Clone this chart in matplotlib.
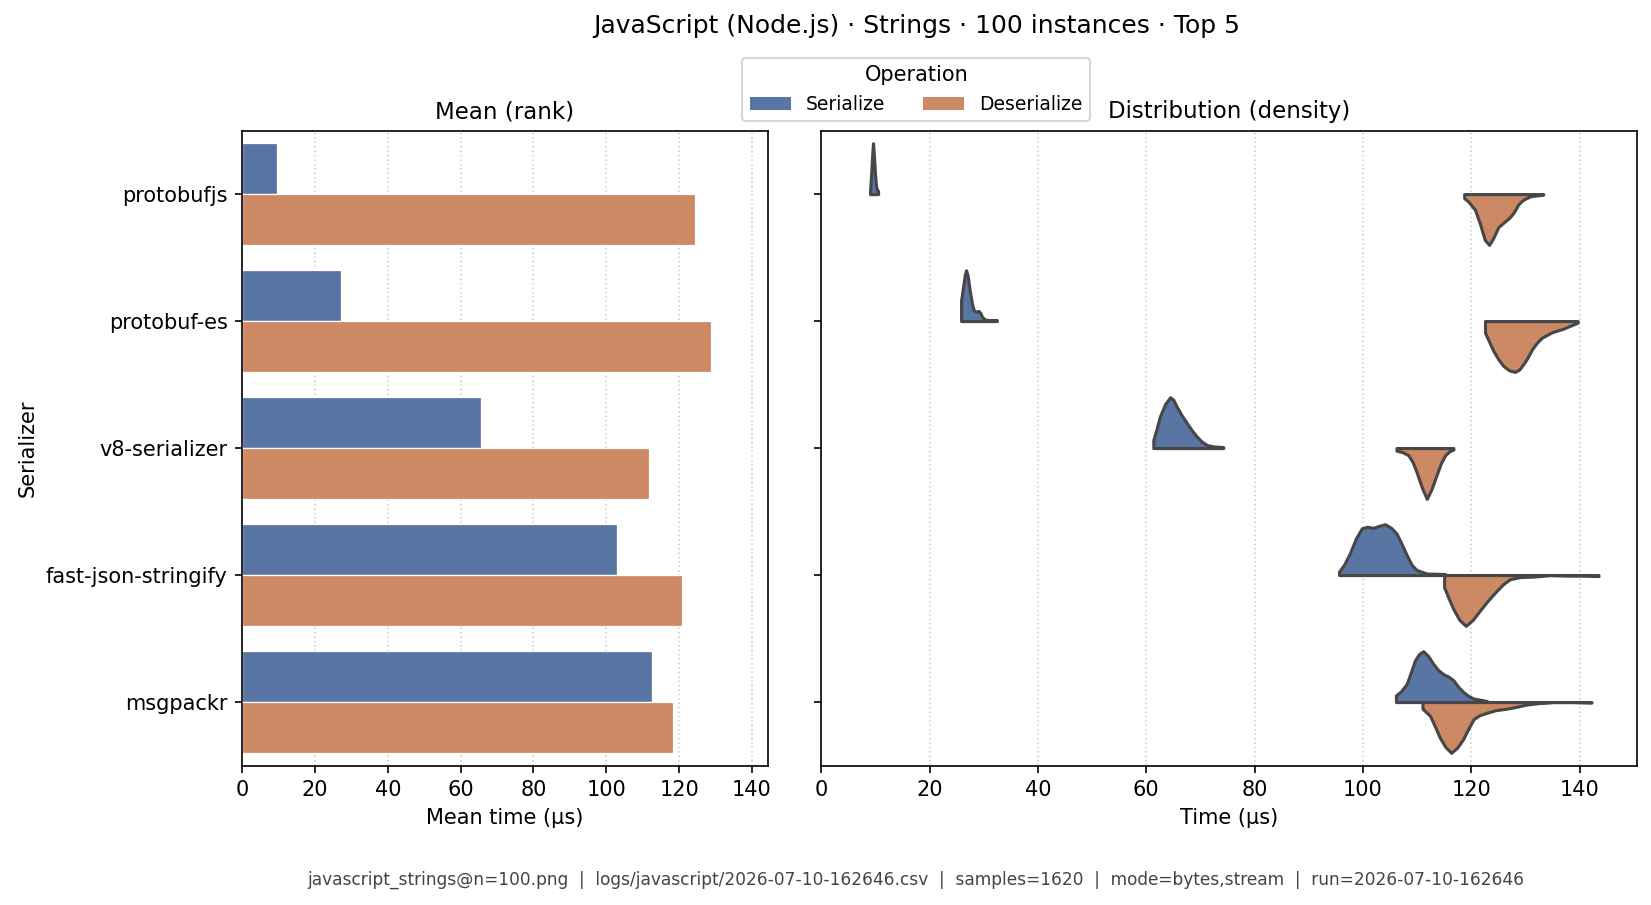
import numpy as np
import matplotlib
matplotlib.use("Agg")
import matplotlib.pyplot as plt
from matplotlib.patches import Patch

serializers = ["protobufjs", "protobuf-es", "v8-serializer", "fast-json-stringify", "msgpackr"]
operations = ["Serialize", "Deserialize"]
colors = ["#5975a4", "#cc8963"]

# mean times (µs)
mean_ser = [9.5, 27.2, 65.7, 103.0, 112.5]
mean_deser = [124.4, 128.7, 111.7, 120.9, 118.3]

# density outlines: time (µs) and density scaled to peak = 1
ser_t = [
    [8.99, 9.2, 9.4, 9.54, 9.7, 9.9, 10.1, 10.3, 10.47],
    [25.8, 26.2, 26.5, 26.72, 27.0, 27.4, 27.8, 28.1, 28.6, 29.0, 29.3, 29.7, 30.2, 31.0, 32.4],
    [61.3, 61.9, 62.5, 63.5, 64.4, 65.0, 65.6, 66.5, 67.5, 68.4, 69.3, 70.2, 71.2, 72.5, 74.2],
    [95.6, 96.5, 97.6, 98.7, 99.8, 100.8, 101.9, 103.0, 104.1, 105.2, 106.2, 107.2, 108.1,
     109.0, 109.9, 111.8, 115.2],
    [106.1, 107.1, 108.1, 108.9, 109.6, 110.4, 111.15, 112.1, 113.0, 113.9, 114.85, 115.8,
     116.7, 117.6, 118.5, 119.5, 120.4, 122.9],
]
ser_d = [
    [0.05, 0.4, 0.8, 1.0, 0.75, 0.4, 0.15, 0.08, 0.06],
    [0.4, 0.7, 0.92, 1.0, 0.9, 0.6, 0.35, 0.22, 0.18, 0.2, 0.17, 0.08, 0.03, 0.02, 0.02],
    [0.16, 0.38, 0.62, 0.87, 1.0, 0.95, 0.82, 0.65, 0.49, 0.35, 0.23, 0.13, 0.06, 0.03, 0.02],
    [0.07, 0.2, 0.43, 0.72, 0.92, 0.95, 0.93, 0.97, 1.0, 0.93, 0.82, 0.6, 0.39, 0.2, 0.1,
     0.03, 0.02],
    [0.13, 0.22, 0.36, 0.6, 0.82, 0.95, 1.0, 0.9, 0.75, 0.63, 0.55, 0.5, 0.43, 0.3, 0.2,
     0.12, 0.07, 0.02],
]
deser_t = [
    [118.7, 119.5, 120.7, 121.6, 122.5, 123.3, 124.0, 125.0, 126.2, 127.0, 127.8, 128.7,
     129.6, 131.0, 133.3],
    [122.55, 123.2, 124.1, 125.0, 125.9, 127.0, 128.1, 128.9, 129.6, 130.4, 131.2, 132.1,
     133.0, 134.9, 137.0, 139.66],
    [106.2, 107.3, 108.4, 109.2, 109.9, 110.9, 111.8, 112.7, 113.6, 114.4, 115.2, 116.0, 116.7],
    [115.0, 115.8, 116.7, 117.8, 119.0, 120.3, 121.6, 123.1, 124.7, 126.0, 127.2, 129.0,
     131.5, 134.5, 138.2, 141.0, 143.5],
    [111.0, 111.7, 112.4, 113.3, 114.2, 115.2, 116.3, 117.4, 118.5, 119.5, 120.4, 121.5,
     122.9, 124.5, 126.6, 128.5, 130.2, 132.5, 135.2, 138.5, 142.2],
]
deser_d = [
    [0.08, 0.15, 0.31, 0.58, 0.9, 1.0, 0.88, 0.65, 0.54, 0.47, 0.37, 0.2, 0.11, 0.04, 0.01],
    [0.23, 0.38, 0.59, 0.75, 0.88, 0.97, 1.0, 0.95, 0.85, 0.72, 0.56, 0.43, 0.33, 0.22,
     0.15, 0.03],
    [0.05, 0.08, 0.14, 0.28, 0.47, 0.78, 1.0, 0.8, 0.53, 0.3, 0.14, 0.06, 0.03],
    [0.24, 0.45, 0.67, 0.88, 1.0, 0.88, 0.7, 0.5, 0.31, 0.17, 0.08, 0.04, 0.03, 0.0, 0.01,
     0.01, 0.02],
    [0.13, 0.2, 0.27, 0.48, 0.7, 0.88, 1.0, 0.9, 0.73, 0.52, 0.34, 0.26, 0.21, 0.16, 0.13,
     0.09, 0.05, 0.02, 0.0, 0.0, 0.01],
]

footer = ("javascript_strings@n=100.png  |  logs/javascript/2026-07-10-162646.csv  |  "
          "samples=1620  |  mode=bytes,stream  |  run=2026-07-10-162646")

plt.rcParams["font.family"] = ["DejaVu Sans"]
plt.rcParams["font.size"] = 10

fig = plt.figure(figsize=(1651 / 150, 905 / 150), dpi=150)
ax1 = fig.add_axes([0.1467, 0.1541, 0.3182, 0.7016])
ax2 = fig.add_axes([0.4975, 0.1541, 0.4943, 0.7016])

y = np.arange(len(serializers))
w = 0.4

# left: mean bars
ax1.barh(y - w / 2, mean_ser, height=w, color=colors[0], edgecolor="white", linewidth=0.6)
ax1.barh(y + w / 2, mean_deser, height=w, color=colors[1], edgecolor="white", linewidth=0.6)
ax1.set_yticks(y)
ax1.set_yticklabels(serializers)
ax1.set_ylim(len(serializers) - 0.5, -0.5)
ax1.set_xlim(0, 144.3)
ax1.set_xticks(np.arange(0, 141, 20))
ax1.set_xlabel("Mean time (µs)")
ax1.set_ylabel("Serializer")
ax1.set_title("Mean (rank)", fontsize=11)

# right: split half-violins
edge = "#474747"
for i in range(len(serializers)):
    t = np.array(ser_t[i])
    d = np.array(ser_d[i])
    ax2.fill_between(t, i, i - w * d, facecolor=colors[0], edgecolor=edge, linewidth=1.5, zorder=3)
    t = np.array(deser_t[i])
    d = np.array(deser_d[i])
    ax2.fill_between(t, i, i + w * d, facecolor=colors[1], edgecolor=edge, linewidth=1.5, zorder=3)
ax2.set_yticks(y)
ax2.set_yticklabels([])
ax2.set_ylim(len(serializers) - 0.5, -0.5)
ax2.set_xlim(0, 150.7)
ax2.set_xticks(np.arange(0, 141, 20))
ax2.set_xlabel("Time (µs)")
ax2.set_title("Distribution (density)", fontsize=11)

for ax in (ax1, ax2):
    ax.grid(axis="x", linestyle=":", color="#d0d0d0", linewidth=0.8)
    ax.set_axisbelow(True)

handles = [Patch(facecolor=colors[0], label=operations[0]),
           Patch(facecolor=colors[1], label=operations[1])]
fig.legend(handles=handles, title="Operation", ncol=2, loc="upper center",
           bbox_to_anchor=(0.555, 0.9465), fontsize=9, title_fontsize=10,
           frameon=True, edgecolor="#cccccc", handlelength=2.2, columnspacing=2.0)

fig.suptitle("JavaScript (Node.js) · Strings · 100 instances · Top 5", x=0.555, y=0.984,
             fontsize=12)
fig.text(0.555, 0.028, footer, ha="center", va="center", fontsize=8.2, color="#444444")

fig.savefig("out.png", dpi=150)
